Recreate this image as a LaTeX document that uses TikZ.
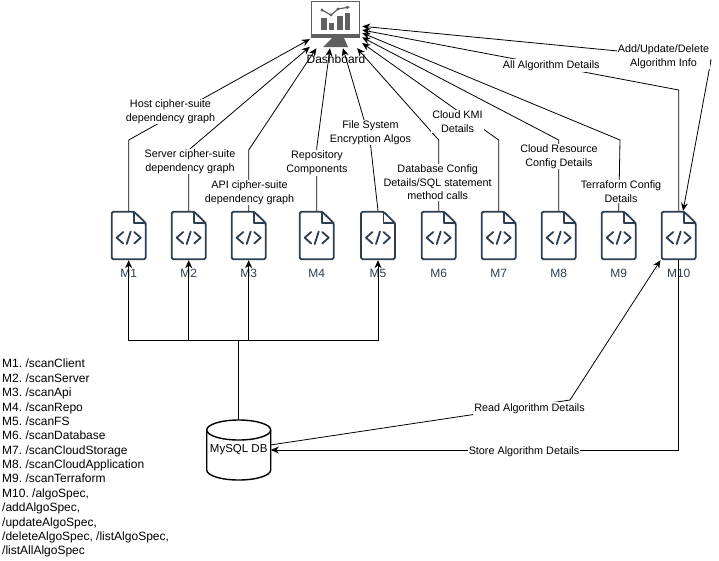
\documentclass[tikz,border=0pt]{standalone}
\usepackage{fontspec}
\setmainfont{Liberation Sans}
\usetikzlibrary{arrows.meta}
\frenchspacing

\definecolor{docslate}{HTML}{2C3E50}
\definecolor{screengrey}{HTML}{5F5F5F}

\tikzset{
  flow/.style={-{Stealth[length=8pt,width=7pt]}, line width=0.8pt},
  twoway/.style={{Stealth[length=8pt,width=7pt]}-{Stealth[length=8pt,width=7pt]}, line width=0.8pt},
  plainline/.style={line width=0.8pt},
  edgelabel/.style={fill=white, align=center, inner sep=1pt, yshift=-1.5pt, font=\fontsize{10.8}{13.6}\selectfont},
  modlabel/.style={text=docslate, inner sep=0pt, font=\fontsize{12}{14.4}\selectfont},
  docicon/.style={minimum width=36pt, minimum height=49pt, inner sep=0pt},
  docline/.style={draw=docslate, line width=1.8pt, line join=round, line cap=round},
  bar/.style={fill=screengrey, draw=none}
}

% module icon with its caption
\newcommand{\docnode}[2]{%
  \node[docicon] (#1) at (#2,235.5) {};
  \begin{scope}[shift={(#1.center)}]
    \draw[docline, rounded corners=1.5pt] (5.5,-23.7) -- (-17,-23.7) -- (-17,23.7) -- (17,23.7) -- (17,-12.5) -- cycle;
    \draw[docline] (5.5,-23.7) -- (5.5,-12.5) -- (17,-12.5);
    \draw[docline] (-5.5,-3.5) -- (-12,2.2) -- (-5.5,8);
    \draw[docline] (5.5,-3.5) -- (12,2.2) -- (5.5,8);
    \draw[docline] (2,-4) -- (-2,8.5);
  \end{scope}
  \node[modlabel] (#1label) at (#2,273) {#1};
}

\begin{document}
\begin{tikzpicture}[x=1pt,y=-1pt]
  \useasboundingbox (0,0) rectangle (719,560);

  % Dashboard
  \node[minimum width=52pt, minimum height=48pt, inner sep=0pt] (dash) at (336,24) {};
  \draw[screengrey, line width=1.6pt] (311.5,1.5) rectangle (359.5,36);
  \fill[screengrey] (311,34) rectangle (360,38);
  \fill[screengrey] (332,38) -- (344,38) -- (348,47) -- (323,47) -- cycle;
  \fill[bar] (321,18) rectangle (327,30);
  \fill[bar] (329,23) rectangle (334,30);
  \fill[bar] (337,16) rectangle (343,30);
  \fill[bar] (345,13) rectangle (350,30);
  \draw[screengrey, line width=1.2pt, -{Stealth[length=4pt,width=4pt]}] (322,10) -- (331,15) -- (338,9) -- (350,7);
  \fill[screengrey] (322,10) circle (1.6) (331,15) circle (1.6) (338,9) circle (1.6);
  \node[inner sep=0pt, font=\fontsize{12}{14.4}\selectfont] (dashlabel) at (336,59.5) {Dashboard};

  % Modules
  \docnode{M1}{128.7}
  \docnode{M2}{188.7}
  \docnode{M3}{248.7}
  \docnode{M4}{316.7}
  \docnode{M5}{378}
  \docnode{M6}{438.7}
  \docnode{M7}{498.7}
  \docnode{M8}{558.7}
  \docnode{M9}{618.7}
  \docnode{M10}{678.7}

  % Database
  \draw[line width=1.4pt, fill=white] (206.7,430) -- (206.7,470) arc[start angle=180, end angle=0, x radius=32, y radius=10] -- (270.7,430);
  \draw[line width=1.4pt, fill=white] (238.7,430) ellipse [x radius=32, y radius=10];
  \node[minimum width=64pt, minimum height=60pt, inner sep=0pt, font=\fontsize{11.5}{14}\selectfont] (db) at (238.7,450) {MySQL DB};

  % Bends
  \coordinate (bus) at (238.7,340);
  \coordinate (bendone) at (128.7,140);
  \coordinate (bendtwo) at (188.7,150);
  \coordinate (bendthree) at (248.7,150);
  \coordinate (bendfour) at (316.7,148);
  \coordinate (bendfive) at (370,140);
  \coordinate (bendsix) at (438.7,140);
  \coordinate (bendseven) at (498.7,140);
  \coordinate (bendeight) at (558.7,140);
  \coordinate (bendnine) at (620,140);
  \coordinate (bendall) at (678.7,90);
  \coordinate (bendadd) at (711,60);
  \coordinate (bendread) at (570,400);

  % Modules to dashboard
  \draw[flow] (M1.north) -- (bendone) -- (dash.210);
  \draw[flow] (M2.north) -- (bendtwo) -- (dash.221.5);
  \draw[flow] (M3.north) -- (bendthree) -- (dash.231.6);
  \draw[flow] (M4.north) -- (bendfour) -- (dash.256);
  \draw[flow] (M5.north) -- (bendfive) -- (dash.286.3);
  \draw[flow] (M6.north) -- (bendsix) -- (dash.311.2);
  \draw[flow] (M7.north) -- (bendseven) -- (dash.324.4);
  \draw[flow] (M8.north) -- (bendeight) -- (dash.333.4);
  \draw[flow] (M9.north) -- (bendnine) -- (dash.341.9);
  \draw[flow] (M10.north) -- (bendall) -- (dash.347);
  \draw[twoway] (dash.355.6) -- (bendadd) -- (M10.80);

  % Database to modules
  \draw[plainline] (db.north) -- (bus);
  \draw[flow] (bus) -| (M1.south);
  \draw[flow] (bus) -| (M2.south);
  \draw[flow] (bus) -| (M3.south);
  \draw[flow] (bus) -| (M5.south);
  \draw[flow] (db.9) -- (bendread) -- (M10.south west);
  \draw[flow] (M10.south) |- (db.east);

  % Connector labels
  \node[edgelabel] (hostlabel) at (170.5,110) {Host cipher-suite\\dependency graph};
  \node[edgelabel] (serverlabel) at (190,160) {Server cipher-suite\\dependency graph};
  \node[edgelabel] (apilabel) at (249.5,191) {API cipher-suite\\dependency graph};
  \node[edgelabel] (repolabel) at (317,161.5) {Repository\\Components};
  \node[edgelabel] (fslabel) at (370.5,131) {File System\\Encryption Algos};
  \node[edgelabel] (dblabel) at (437.7,181) {Database Config\\Details/SQL statement\\method calls};
  \node[edgelabel] (kmilabel) at (457.5,120) {Cloud KMI\\Details};
  \node[edgelabel] (resourcelabel) at (559,155) {Cloud Resource\\Config Details};
  \node[edgelabel] (terraformlabel) at (621,190) {Terraform Config\\Details};
  \node[edgelabel] (alllabel) at (551.3,64) {All Algorithm Details};
  \node[edgelabel] (addlabel) at (663.5,55) {Add/Update/Delete\\Algorithm Info};
  \node[edgelabel] (readlabel) at (529.5,407) {Read Algorithm Details};
  \node[edgelabel] (storelabel) at (524,450) {Store Algorithm Details};

  % Endpoint list
  \node[anchor=north west, align=left, inner sep=0pt, font=\fontsize{12}{14.38}\selectfont] (endpoints) at (2,359) {M1. /scanClient\\
    M2. /scanServer\\
    M3. /scanApi\\
    M4. /scanRepo\\
    M5. /scanFS\\
    M6. /scanDatabase\\
    M7. /scanCloudStorage\\
    M8. /scanCloudApplication\\
    M9. /scanTerraform\\
    M10. /algoSpec,\\
    /addAlgoSpec,\\
    /updateAlgoSpec,\\
    /deleteAlgoSpec, /listAlgoSpec,\\
    /listAllAlgoSpec};
\end{tikzpicture}
\end{document}
